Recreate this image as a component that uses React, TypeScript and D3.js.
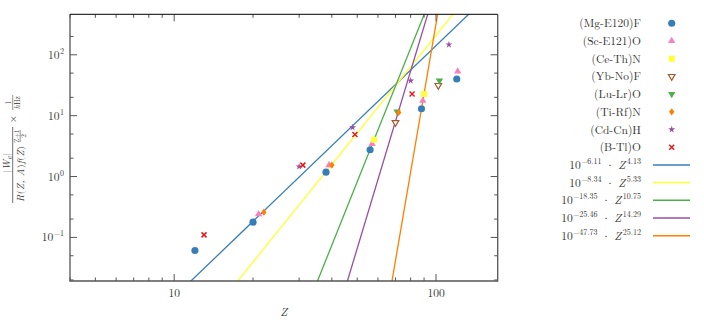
import React, { useEffect, useRef } from 'react'
import * as d3 from 'd3'

// values
const zMgE120 = [12, 20, 38, 56, 88, 120]
const vMgE120 = [0.061, 0.178, 1.18, 2.75, 13.0, 40.0]
const zScE121 = [21, 39, 57, 89, 121]
const vScE121 = [0.241, 1.54, 3.45, 17.6, 53.3]
const zCeTh = [58, 90]
const vCeTh = [4.01, 22.7]
const zYbNo = [70, 102]
const vYbNo = [7.73, 31.4]
const zLuLr = [71, 103]
const vLuLr = [11.7, 37.5]
const zTiRf = [22, 40, 72]
const vTiRf = [0.26, 1.54, 11.3]
const zCdCn = [30, 48, 80, 112]
const vCdCn = [1.46, 6.4, 37.5, 146.6]
const zBTl = [13, 31, 49, 81]
const vBTl = [0.11, 1.54, 4.91, 22.7]

const seriesNames = ['(Mg-E120)F', '(Sc-E121)O', '(Ce-Th)N', '(Yb-No)F', '(Lu-Lr)O', '(Ti-Rf)N', '(Cd-Cn)H', '(B-Tl)O']
const seriesColors = ['#377eb8', '#f781bf', '#ffff33', '#a65628', '#4daf4a', '#ff7f00', '#984ea3', '#e41a1c']
const seriesMarkers = ['circle', 'triUp', 'square', 'triDownOpen', 'triDown', 'diamond', 'star', 'x']

// power-law fits: 10^a * Z^b
const fitA = ['-6.11', '-8.34', '-18.35', '-25.46', '-47.73']
const fitB = ['4.13', '5.33', '10.75', '14.29', '25.12']
const fitColors = ['#377eb8', '#ffff33', '#4daf4a', '#984ea3', '#ff7f00']

const xMajor = [10, 100]
const xMajorLabels = ['10', '100']
const xMinor = [4, 5, 6, 7, 8, 9, 20, 30, 40, 50, 60, 70, 80, 90]
const yMajor = [0.1, 1, 10, 100]
const yMajorExp = ['\u22121', '0', '1', '2']
const yMinor = [0.02, 0.05, 0.2, 0.5, 2, 5, 20, 50, 200]

const FONT = "'Latin Modern Roman', 'CMU Serif', 'Liberation Serif', serif"

function markerPath(kind: string) {
  if (kind === 'circle') return d3.symbol(d3.symbolCircle, 40)()
  if (kind === 'triUp' || kind === 'triDown') return d3.symbol(d3.symbolTriangle, 23)()
  if (kind === 'triDownOpen') return d3.symbol(d3.symbolTriangle, 19)()
  if (kind === 'square') return d3.symbol(d3.symbolSquare, 36)()
  if (kind === 'star') return d3.symbol(d3.symbolStar, 15)()
  if (kind === 'diamond') return 'M0,-3.6L2.7,0L0,3.6L-2.7,0Z'
  return 'M-2.5,-2.5L2.5,2.5M-2.5,2.5L2.5,-2.5'
}

function drawMarker(g: any, kind: string, color: string, x: number, y: number) {
  const p = g.append('path')
    .attr('d', markerPath(kind))
    .attr('transform', `translate(${x},${y})` + (kind.startsWith('triDown') ? ' rotate(180)' : ''))
  if (kind === 'x') {
    p.attr('fill', 'none').attr('stroke', color).attr('stroke-width', 1.5)
  } else if (kind === 'triDownOpen') {
    p.attr('fill', '#fff').attr('stroke', color).attr('stroke-width', 1.2)
  } else {
    p.attr('fill', color)
  }
}

export default function App() {
  const ref = useRef<SVGSVGElement>(null)

  useEffect(() => {
    const svg = d3.select(ref.current)
    svg.selectAll('*').remove()

    const left = 70, right = 497.7, top = 14.3, bottom = 281

    const x = d3.scaleLog().domain([4, 172]).range([left, right])
    const y = d3.scaleLog().domain([Math.pow(10, -1.716), Math.pow(10, 2.665)]).range([bottom, top])

    svg.append('rect').attr('width', 704).attr('height', 320).attr('fill', '#fff')

    svg.append('defs').append('clipPath').attr('id', 'plot-clip')
      .append('rect').attr('x', left).attr('y', top)
      .attr('width', right - left).attr('height', bottom - top)

    // fit lines
    const fits = svg.append('g').attr('clip-path', 'url(#plot-clip)')
    fitA.forEach((a, i) => {
      const pts = x.domain().map(z => [x(z), y(Math.pow(10, +a) * Math.pow(z, +fitB[i]))] as [number, number])
      fits.append('path')
        .attr('d', d3.line()(pts))
        .attr('stroke', fitColors[i])
        .attr('stroke-width', 1.3)
        .attr('fill', 'none')
    })

    // points
    const zs = [zMgE120, zScE121, zCeTh, zYbNo, zLuLr, zTiRf, zCdCn, zBTl]
    const vs = [vMgE120, vScE121, vCeTh, vYbNo, vLuLr, vTiRf, vCdCn, vBTl]
    const pts = svg.append('g').attr('clip-path', 'url(#plot-clip)')
    zs.forEach((zz, i) => {
      zz.forEach((z, j) => drawMarker(pts, seriesMarkers[i], seriesColors[i], x(z), y(vs[i][j])))
    })

    // ticks, pointing inward on all four sides
    const ticks = svg.append('g').attr('stroke', '#555').attr('stroke-width', 1)
    const xt = (v: number, len: number) => {
      ticks.append('line').attr('x1', x(v)).attr('x2', x(v)).attr('y1', bottom).attr('y2', bottom - len)
      ticks.append('line').attr('x1', x(v)).attr('x2', x(v)).attr('y1', top).attr('y2', top + len)
    }
    const yt = (v: number, len: number) => {
      ticks.append('line').attr('y1', y(v)).attr('y2', y(v)).attr('x1', left).attr('x2', left + len)
      ticks.append('line').attr('y1', y(v)).attr('y2', y(v)).attr('x1', right).attr('x2', right - len)
    }
    xMinor.forEach(v => xt(v, 3.5))
    xMajor.forEach(v => xt(v, 7))
    yMinor.forEach(v => yt(v, 3.5))
    yMajor.forEach(v => yt(v, 7))

    // frame
    svg.append('path')
      .attr('d', `M${left},${top}V${bottom}H${right}V${top}`)
      .attr('stroke', '#555').attr('stroke-width', 1.3).attr('fill', 'none')
    svg.append('line').attr('x1', left).attr('x2', right).attr('y1', top).attr('y2', top)
      .attr('stroke', '#000').attr('stroke-width', 1)

    // tick labels
    const txt = svg.append('g').attr('font-family', FONT).attr('fill', '#333')
    xMajor.forEach((v, i) => {
      txt.append('text').attr('x', x(v)).attr('y', 297).attr('text-anchor', 'middle')
        .attr('font-size', 11.5).text(xMajorLabels[i])
    })
    yMajor.forEach((v, i) => {
      const t = txt.append('text').attr('x', 64).attr('y', y(v) + 4).attr('text-anchor', 'end')
        .attr('font-size', 11.5)
      t.append('tspan').text('10')
      t.append('tspan').attr('dy', -5).attr('dx', 0.5).attr('font-size', 8).text(yMajorExp[i])
    })

    // axis labels
    txt.append('text').attr('x', (left + right) / 2).attr('y', 316).attr('text-anchor', 'middle')
      .attr('font-size', 11.5).attr('font-style', 'italic').text('Z')

    const yl = txt.append('g').attr('transform', 'translate(12.7,165) rotate(-90)')
    const num = yl.append('text').attr('x', 2).attr('y', -2.5).attr('text-anchor', 'middle').attr('font-size', 10)
    num.append('tspan').text('|')
    num.append('tspan').attr('font-style', 'italic').text('W')
    num.append('tspan').attr('font-style', 'italic').attr('font-size', 7).attr('dy', 2).text('a')
    num.append('tspan').attr('dy', -2).text('|')
    yl.append('line').attr('x1', -38).attr('x2', 38).attr('y1', 0).attr('y2', 0)
      .attr('stroke', '#333').attr('stroke-width', 0.7)
    const den = yl.append('text').attr('x', -37).attr('y', 11.5).attr('font-size', 10)
      .attr('textLength', 56).attr('lengthAdjust', 'spacing')
    den.append('tspan').attr('font-style', 'italic').text('R')
    den.append('tspan').text('(')
    den.append('tspan').attr('font-style', 'italic').text('Z, A')
    den.append('tspan').text(')')
    den.append('tspan').attr('font-style', 'italic').text('f')
    den.append('tspan').text('(')
    den.append('tspan').attr('font-style', 'italic').text('Z')
    den.append('tspan').text(')')
    yl.append('text').attr('x', 29).attr('y', 6).attr('text-anchor', 'middle').attr('font-size', 7)
      .text('Z+1')
    yl.append('line').attr('x1', 23).attr('x2', 35).attr('y1', 7.5).attr('y2', 7.5)
      .attr('stroke', '#333').attr('stroke-width', 0.5)
    yl.append('text').attr('x', 29).attr('y', 13.5).attr('text-anchor', 'middle').attr('font-size', 7)
      .text('2')
    yl.append('text').attr('x', 46).attr('y', 3.5).attr('text-anchor', 'middle').attr('font-size', 10).text('\u00d7')
    yl.append('text').attr('x', 62.5).attr('y', -2).attr('text-anchor', 'middle').attr('font-size', 8).text('1')
    yl.append('line').attr('x1', 55).attr('x2', 70).attr('y1', 0).attr('y2', 0)
      .attr('stroke', '#333').attr('stroke-width', 0.5)
    const hz = yl.append('text').attr('x', 62.5).attr('y', 7).attr('text-anchor', 'middle').attr('font-size', 7.5)
    hz.append('tspan').attr('font-style', 'italic').text('h')
    hz.append('tspan').text('Hz')

    // legend
    const leg = svg.append('g').attr('font-family', FONT).attr('fill', '#333')
    const rowY = (i: number) => 23.3 + 17.7 * i
    seriesNames.forEach((name, i) => {
      leg.append('text').attr('x', 641).attr('y', rowY(i) + 4).attr('text-anchor', 'end')
        .attr('font-size', 11.5).text(name)
      drawMarker(leg, seriesMarkers[i], seriesColors[i], 671.7, rowY(i))
    })
    fitA.forEach((a, i) => {
      const yy = rowY(seriesNames.length + i)
      const t = leg.append('text').attr('x', 641).attr('y', yy + 4).attr('text-anchor', 'end').attr('font-size', 11.5)
      t.append('tspan').text('10')
      t.append('tspan').attr('dy', -5).attr('dx', 0.5).attr('font-size', 8).text(a.replace('-', '\u2212'))
      t.append('tspan').attr('dy', 5).text(' \u00b7 ')
      t.append('tspan').attr('font-style', 'italic').text('Z')
      t.append('tspan').attr('dy', -5).attr('dx', 1.5).attr('font-size', 8).text(fitB[i])
      leg.append('line').attr('x1', 653).attr('x2', 690).attr('y1', yy).attr('y2', yy)
        .attr('stroke', fitColors[i]).attr('stroke-width', 1.5)
    })
  }, [])

  return (
    <svg ref={ref} width={704} height={320}
      style={{ position: 'absolute', left: 0, top: 0, background: '#fff' }} />
  )
}
